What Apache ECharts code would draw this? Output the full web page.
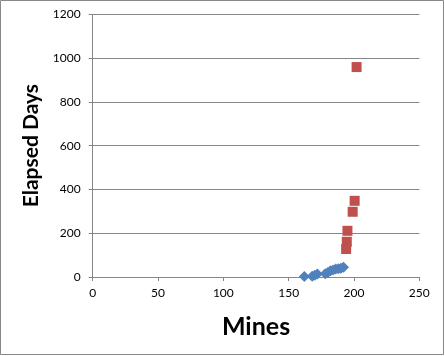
<!DOCTYPE html>
<html><head><meta charset="utf-8">
<script src="https://cdn.jsdelivr.net/npm/echarts@6/dist/echarts.min.js"></script>
<style>html,body{margin:0;padding:0;background:#fff}#c{width:445px;height:356px}</style>
</head><body><div id="c"></div>
<script>
const xTitle = "Mines";
const yTitle = "Elapsed Days";
const blueMines = [162, 168, 170, 172, 178, 180, 182, 184, 186, 188, 190, 192];
const blueDays  = [2, 3, 8, 14, 15, 20, 28, 32, 36, 38, 40, 44];
const redMines = [194, 194.5, 195, 199, 200.5, 202];
const redDays  = [128, 161, 211, 298, 348, 959];

const chart = echarts.init(document.getElementById('c'));
const pair = (xs, ys) => xs.map((x, i) => [x, ys[i]]);
const axisGray = '#868686';
const font = 'Lato, "Open Sans", sans-serif';
chart.setOption({
  animation: false,
  grid: {left: 92.7, right: 25.7, top: 14.3, bottom: 79},
  graphic: [{type: 'rect', shape: {x: 0.5, y: 0.5, width: 443, height: 354}, style: {fill: 'none', stroke: '#888', lineWidth: 1}, silent: true}],
  xAxis: {
    type: 'value', min: 0, max: 250, interval: 50,
    name: xTitle, nameLocation: 'middle', nameGap: 37,
    nameTextStyle: {fontFamily: font, fontWeight: 'bold', fontSize: 25, color: '#000'},
    axisLine: {show: true, lineStyle: {color: axisGray}},
    axisTick: {show: true, length: 4, lineStyle: {color: axisGray}},
    axisLabel: {fontFamily: font, fontSize: 12, color: '#000', margin: 10, formatter: v => String(v)},
    splitLine: {show: false}
  },
  yAxis: {
    type: 'value', min: 0, max: 1200, interval: 200,
    name: yTitle, nameLocation: 'middle', nameGap: 50,
    nameTextStyle: {fontFamily: font, fontWeight: 'bold', fontSize: 21, color: '#000'},
    axisLine: {show: true, lineStyle: {color: axisGray}},
    axisTick: {show: true, length: 4, lineStyle: {color: axisGray}},
    axisLabel: {fontFamily: font, fontSize: 12, color: '#000', margin: 12, formatter: v => String(v)},
    splitLine: {show: true, lineStyle: {color: axisGray}}
  },
  series: [
    {type: 'scatter', data: pair(blueMines, blueDays), symbol: 'diamond', symbolSize: 11,
     itemStyle: {color: '#4F81BD', opacity: 1}},
    {type: 'scatter', data: pair(redMines, redDays), symbol: 'rect', symbolSize: 10,
     itemStyle: {color: '#C0504D', opacity: 1}}
  ]
});
</script></body></html>
